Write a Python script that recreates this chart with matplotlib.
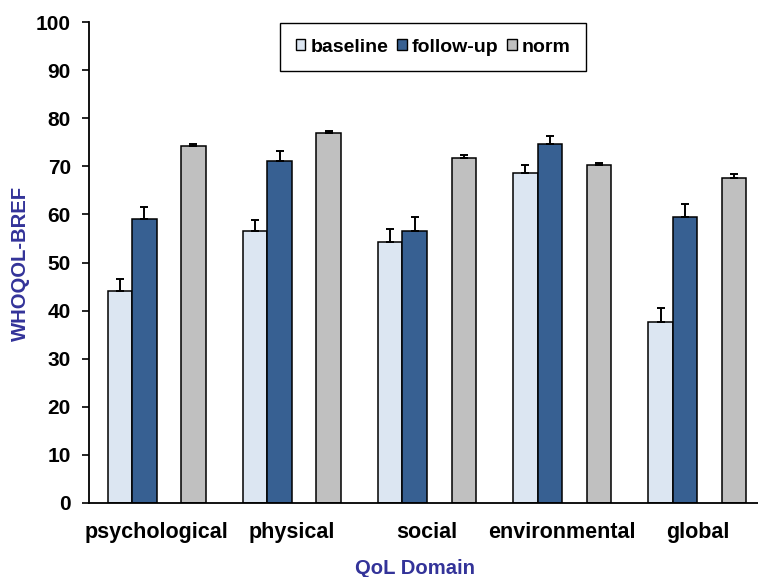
import numpy as np
import matplotlib
matplotlib.use('Agg')
import matplotlib.pyplot as plt
from matplotlib.patches import Patch

plt.rcParams['font.family'] = ['Liberation Sans', 'DejaVu Sans']
plt.rcParams['font.weight'] = 'bold'

# data
domains = ['psychological', 'physical', 'social', 'environmental', 'global']
baseline = [44.0, 56.6, 54.2, 68.6, 37.7]
baseline_err = [2.5, 2.2, 2.8, 1.7, 2.8]
follow_up = [59.1, 71.0, 56.6, 74.6, 59.5]
follow_up_err = [2.5, 2.2, 2.9, 1.8, 2.7]
norm = [74.2, 77.0, 71.7, 70.3, 67.5]
norm_err = [0.4, 0.3, 0.7, 0.4, 0.8]

series_names = ['baseline', 'follow-up', 'norm']
colors = ['#dce6f2', '#376092', '#c0c0c0']
title_color = '#333399'

W, H = 758, 577
fig = plt.figure(figsize=(W / 100, H / 100), dpi=100)
ax = fig.add_axes([89 / W, 74 / H, 676 / W, 481 / H])

x = np.arange(len(domains))
w = 24.5 / 135
offsets = [-1.5 * w, -0.5 * w, 1.5 * w]
vals = [baseline, follow_up, norm]
errs = [baseline_err, follow_up_err, norm_err]

for off, v, e, c in zip(offsets, vals, errs, colors):
    ax.bar(x + off, v, width=w, color=c, edgecolor='black', linewidth=1.1, zorder=2)
    ax.errorbar(x + off, v, yerr=[np.zeros(len(e)), e], fmt='none', ecolor='black',
                elinewidth=1.4, capsize=3, capthick=1.4, zorder=3)

ax.set_xlim(-0.5, len(domains) - 0.5)
ax.set_ylim(0, 100)
ax.set_yticks(range(0, 101, 10))
ax.set_xticks(x)
ax.set_xticklabels(domains, fontsize=15.5, fontweight='bold')
ax.tick_params(axis='x', length=0, pad=14)
ax.tick_params(axis='y', direction='out', length=5, width=1.2, labelsize=15, pad=8)
for lbl in ax.get_yticklabels():
    lbl.set_fontweight('bold')

for side in ['top', 'right']:
    ax.spines[side].set_visible(False)
ax.spines['left'].set_linewidth(1.3)
ax.spines['bottom'].set_linewidth(1.3)

fig.text(415 / W, 1 - 569 / H, 'QoL Domain', color=title_color, fontsize=14.6,
         fontweight='bold', ha='center', va='center')
fig.text(20 / W, 1 - 263 / H, 'WHOQOL-BREF', color=title_color, fontsize=14.6,
         fontweight='bold', ha='center', va='center', rotation=90)

handles = [Patch(facecolor=c, edgecolor='black', linewidth=1.0) for c in colors]
leg = fig.legend(handles, series_names, loc='center', ncol=3,
                 bbox_to_anchor=(433 / W, 1 - 47 / H),
                 prop={'weight': 'bold', 'size': 14},
                 handlelength=0.5, handleheight=0.5, handletextpad=0.25,
                 columnspacing=0.45, borderpad=0.8, fancybox=False, framealpha=1)
leg.get_frame().set_edgecolor('black')
leg.get_frame().set_linewidth(1.0)

fig.savefig('out.png', dpi=100)
